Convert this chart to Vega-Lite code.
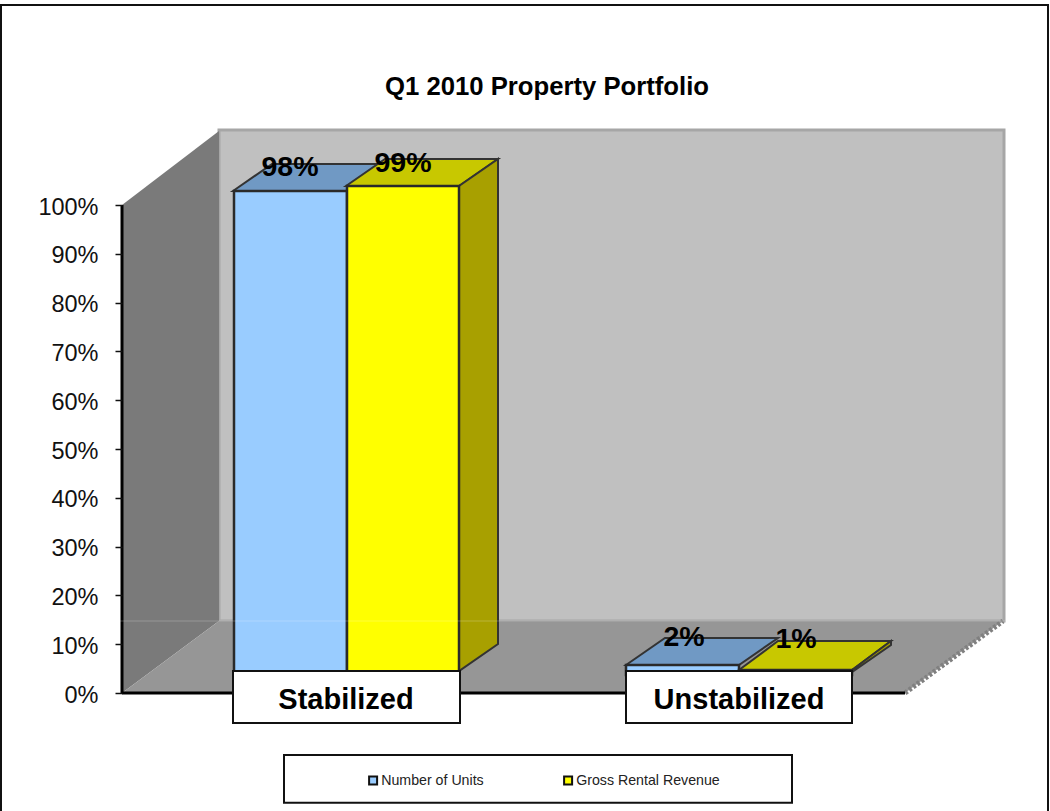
{
"$schema":"https://vega.github.io/schema/vega-lite/v6.json",
"width":1050,"height":811,"padding":0,"autosize":{"type":"none"},"background":"white",
"config":{"view":{"stroke":null},"font":"Liberation Sans"},
"encoding":{
 "x":{"field":"x","type":"quantitative","scale":{"domain":[0,1050],"nice":false,"zero":false},"axis":null},
 "y":{"field":"y","type":"quantitative","scale":{"domain":[-24.18,142.01],"nice":false,"zero":false},"axis":null}
},
"resolve":{"scale":{"y":"independent"}},
"layer":[
{"data":{"values":[{"x":1,"x1":1048,"y":140.98,"y1":-26}]},
 "mark":{"type":"rect","filled":false,"stroke":"#111","strokeWidth":2},
 "encoding":{"x2":{"field":"x1"},"y2":{"field":"y1"},
  "y":{"field":"y","type":"quantitative","scale":{"domain":[-24.18,142.01],"nice":false,"zero":false},
   "axis":{"offset":-122,"values":[0,10,20,30,40,50,60,70,80,90,100],"labelExpr":"datum.value+'%'","domain":false,"grid":false,"title":null,"tickSize":7,"tickColor":"#111","tickWidth":1.5,"labelFontSize":23.5,"labelColor":"#111","labelPadding":17,"labelOffset":2,"labelFont":"Liberation Sans","zindex":1}}}},
{"data":{"values":[{"x":219,"x1":1004,"y":115.37,"y1":14.75}]},
 "mark":{"type":"rect","fill":"#C0C0C0","stroke":"#A6A6A6","strokeWidth":3},
 "encoding":{"x2":{"field":"x1"},"y2":{"field":"y1"}}},
{"data":{"values":[{"x":122,"y":100,"y1":0},{"x":219,"y":115.16,"y1":14.75}]},
 "mark":{"type":"area","fill":"#7A7A7A"},"encoding":{"y2":{"field":"y1"}}},
{"data":{"values":[{"x":122,"y":0,"y1":0},{"x":219,"y":14.75,"y1":0},{"x":905,"y":14.75,"y1":0},{"x":1003,"y":14.75,"y1":14.75}]},
 "mark":{"type":"area","fill":"#969696"},"encoding":{"y2":{"field":"y1"}}},
{"data":{"values":[{"x":905,"y":0},{"x":1003,"y":14.75}]},
 "mark":{"type":"line","stroke":"#808080","strokeWidth":5,"strokeDash":[3,2]}},
{"data":{"values":[{"x":122,"y":0,"s":"base"},{"x":905,"y":0,"s":"base"},{"x":122,"y":0,"s":"side"},{"x":122,"y":100,"s":"side"}]},
 "mark":{"type":"line","stroke":"#000","strokeWidth":3},"encoding":{"detail":{"field":"s"}}},
{"data":{"values":[
 {"f":"a","x":233,"y":102.87,"y1":102.87},{"f":"a","x":272,"y":108.4,"y1":102.87},{"f":"a","x":346,"y":108.4,"y1":102.87},{"f":"a","x":385,"y":108.4,"y1":108.4},
 {"f":"b","x":626,"y":5.74,"y1":5.74},{"f":"b","x":665,"y":11.27,"y1":5.74},{"f":"b","x":739,"y":11.27,"y1":5.74},{"f":"b","x":778,"y":11.27,"y1":11.27}]},
 "mark":{"type":"area","fill":"#7099C4","stroke":"#333","strokeWidth":2},"encoding":{"y2":{"field":"y1"},"detail":{"field":"f"}}},
{"data":{"values":[
 {"f":"a","x":346,"y":103.89,"y1":103.89},{"f":"a","x":385,"y":109.43,"y1":103.89},{"f":"a","x":459,"y":109.43,"y1":103.89},{"f":"a","x":498,"y":109.43,"y1":109.43},
 {"f":"b","x":739,"y":4.71,"y1":4.71},{"f":"b","x":778,"y":10.66,"y1":4.71},{"f":"b","x":852,"y":10.66,"y1":4.71},{"f":"b","x":891,"y":10.66,"y1":10.66}]},
 "mark":{"type":"area","fill":"#C8C800","stroke":"#333","strokeWidth":2},"encoding":{"y2":{"field":"y1"},"detail":{"field":"f"}}},
{"data":{"values":[
 {"f":"a","x":459,"y":103.89,"y1":4.51},{"f":"a","x":498,"y":109.43,"y1":10.04},
 {"f":"b","x":852,"y":4.71,"y1":4.3},{"f":"b","x":891,"y":10.66,"y1":9.84}]},
 "mark":{"type":"area","fill":"#A8A000","stroke":"#333","strokeWidth":2},"encoding":{"y2":{"field":"y1"},"detail":{"field":"f"}}},
{"data":{"values":[
 {"category":"Stabilized","series":"Number of Units","value":98,"x":234,"x1":347},
 {"category":"Stabilized","series":"Gross Rental Revenue","value":99,"x":347,"x1":459},
 {"category":"Unstabilized","series":"Number of Units","value":2,"x":626,"x1":739},
 {"category":"Unstabilized","series":"Gross Rental Revenue","value":1,"x":739,"x1":852}]},
 "mark":{"type":"rect","stroke":"#2a2a2a","strokeWidth":2.5},
 "encoding":{"x2":{"field":"x1"},
  "y":{"field":"value","type":"quantitative","scale":{"domain":[-27.53,136.64],"nice":false,"zero":false},"axis":null},
  "y2":{"datum":0},
  "color":{"field":"series","type":"nominal","scale":{"domain":["Number of Units","Gross Rental Revenue"],"range":["#99CCFF","#FFFF00"]},
   "legend":{"title":null,"orient":"none","legendX":366,"legendY":773,"direction":"horizontal","columns":2,"symbolType":"square","symbolSize":64,"symbolStrokeColor":"#111","symbolStrokeWidth":2,"symbolOpacity":1,"labelFont":"Liberation Sans","labelFontSize":14.2,"labelColor":"#222","labelOffset":1,"columnPadding":76}}}},
{"data":{"values":[{"x":120,"y":14.75},{"x":1005,"y":14.75}]},
 "mark":{"type":"line","stroke":"#fff","strokeOpacity":0.15,"strokeWidth":1.5}},
{"data":{"values":[{"x":233,"x1":460,"y":4.51,"y1":-6.15},{"x":626,"x1":852,"y":4.51,"y1":-6.15}]},
 "mark":{"type":"rect","fill":"white","stroke":"#111","strokeWidth":2},"encoding":{"x2":{"field":"x1"},"y2":{"field":"y1"}}},
{"data":{"values":[{"x":284,"x1":792,"y":-12.7,"y1":-22.5}]},
 "mark":{"type":"rect","filled":false,"stroke":"#111","strokeWidth":2},"encoding":{"x2":{"field":"x1"},"y2":{"field":"y1"}}},
{"data":{"values":[{"x":547,"y":124.18,"t":"Q1 2010 Property Portfolio"}]},
 "mark":{"type":"text","font":"Liberation Sans","fontWeight":"bold","fontSize":25.7,"baseline":"middle","color":"#000"},"encoding":{"text":{"field":"t"}}},
{"data":{"values":[{"x":290,"y":107.79,"t":"98%"},{"x":403,"y":108.6,"t":"99%"},{"x":684,"y":11.48,"t":"2%"},{"x":796,"y":11.07,"t":"1%"}]},
 "mark":{"type":"text","font":"Liberation Sans","fontWeight":"bold","fontSize":28.5,"baseline":"middle","color":"#000"},"encoding":{"text":{"field":"t"}}},
{"data":{"values":[{"x":346,"y":-1.43,"t":"Stabilized"},{"x":739,"y":-1.43,"t":"Unstabilized"}]},
 "mark":{"type":"text","font":"Liberation Sans","fontWeight":"bold","fontSize":29,"baseline":"middle","color":"#000"},"encoding":{"text":{"field":"t"}}}
]
}
